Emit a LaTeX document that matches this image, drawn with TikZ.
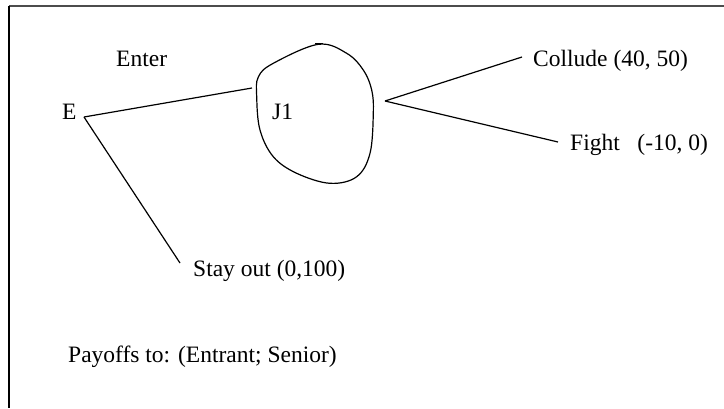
\documentclass[tikz,border=0pt]{standalone}
\usepackage{fontspec}
\setmainfont{Liberation Serif}
\begin{document}
\begin{tikzpicture}[x=1pt,y=-1pt,
  lbl/.style={anchor=base west,inner sep=0pt,font=\fontsize{23.5}{28}\selectfont},
  branch/.style={draw=black,line width=1.2pt}]
\useasboundingbox (0,0) rectangle (724,408);
% frame (only top and left edges visible)
\draw[line width=1.6pt,draw=black!70] (9,6) -- (724,6);
\draw[line width=1.3pt,draw=black] (9,6) -- (9,408);
% decision points
\coordinate (E) at (84,117);
\coordinate (enterEnd) at (252,88);
\coordinate (stayEnd) at (180,263);
\coordinate (J) at (385,101);
\coordinate (collEnd) at (522,57);
\coordinate (fightEnd) at (558,142);
% labels
\node[lbl] (lE) at (62,119) {E};
\node[lbl] (lEnter) at (116,66) {Enter};
\node[lbl] (lJ1) at (272,119) {J1};
\node[lbl] (lStay) at (193,276) {Stay out (0,100)};
\node[lbl] (lColl) at (533,66) {Collude (40, 50)};
\node[lbl] (lFight) at (570,150) {Fight\hspace{0.75em}(-10, 0)};
\node[lbl] (lPay) at (68,362) {Payoffs to: (Entrant; Senior)};
% branches
\draw[branch] (E) -- (enterEnd);
\draw[branch] (E) -- (stayEnd);
\draw[branch] (J) -- (collEnd);
\draw[branch] (J) -- (fightEnd);
% information set blob
\draw[line width=1.2pt] plot[smooth cycle,tension=0.6] coordinates {
 (318.3,44.3) (273.3,63.3) (258.3,77) (256.7,97) (260,130) (273.3,156.7)
 (296.7,173.3) (330,183.3) (356.7,176.7) (370,153.3) (373.3,113.3)
 (371.7,90) (363.3,70) (346.7,53.3)};
\coordinate (tickL) at (315,43.5);
\coordinate (tickR) at (323,43.5);
\draw[line width=1.2pt] (tickL) -- (tickR);
\end{tikzpicture}
\end{document}
